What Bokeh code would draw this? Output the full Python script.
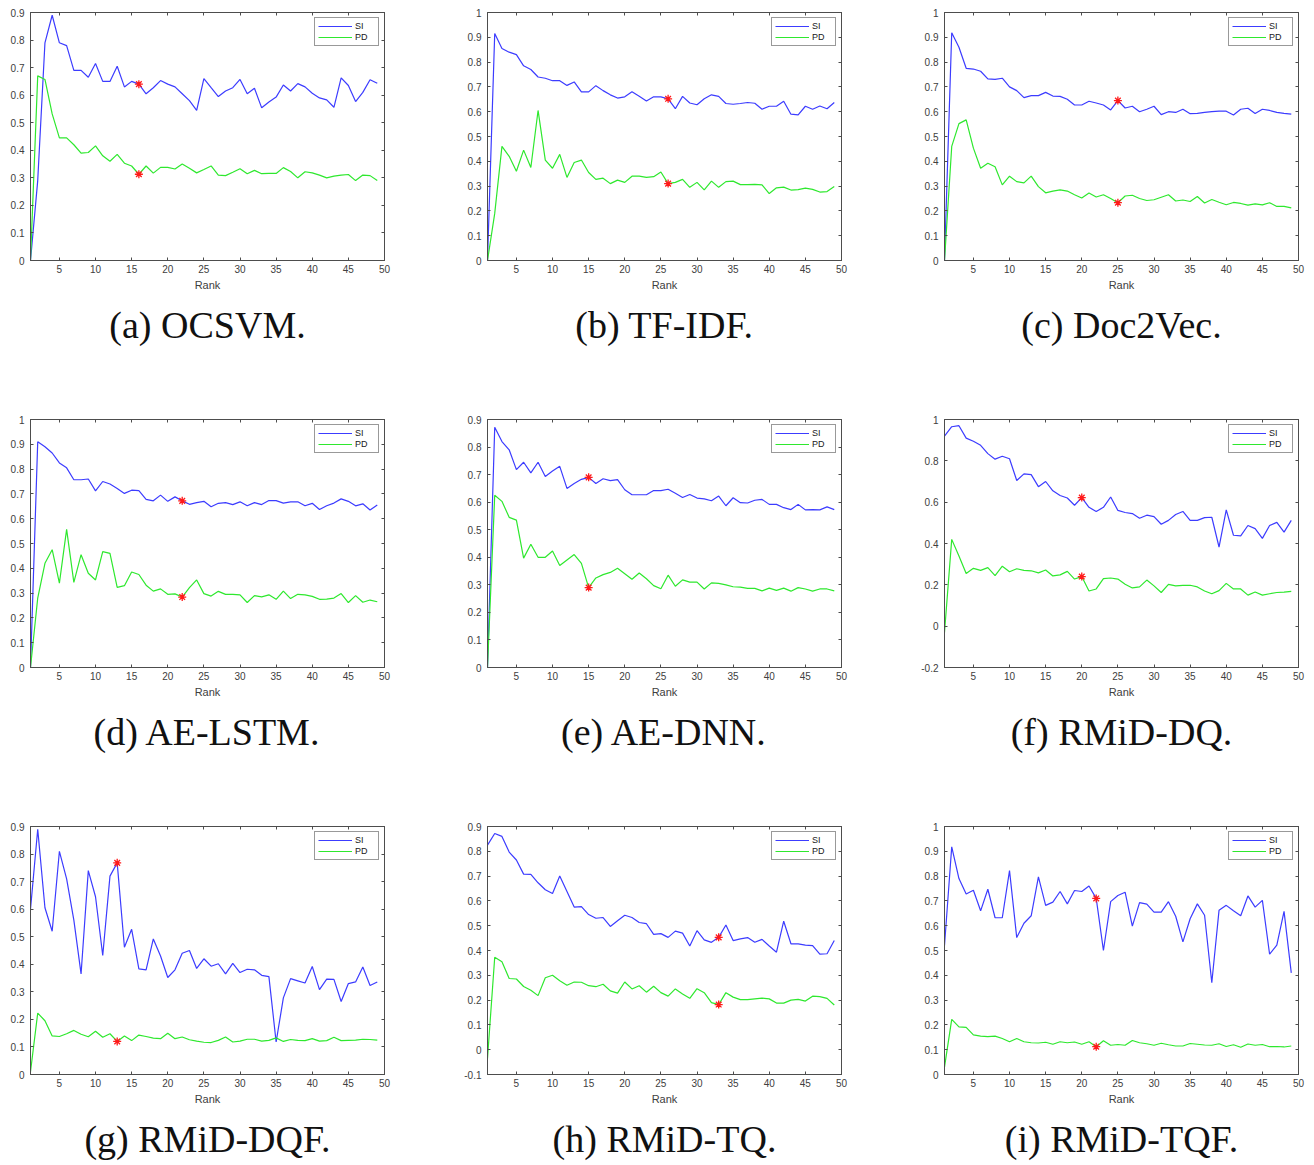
from bokeh.plotting import figure
from bokeh.models import FixedTicker, CustomJSTickFormatter, LinearAxis, Range1d
from bokeh.layouts import row, column
from bokeh.embed import file_html
from bokeh.resources import INLINE

RANK = list(range(1, 50))
X_TICKS = [5, 10, 15, 20, 25, 30, 35, 40, 45, 50]
CAPTIONS = ["(a) OCSVM.", "(b) TF-IDF.", "(c) Doc2Vec.",
            "(d) AE-LSTM.", "(e) AE-DNN.", "(f) RMiD-DQ.",
            "(g) RMiD-DQF.", "(h) RMiD-TQ.", "(i) RMiD-TQF."]
Y_MIN = [0, 0, 0, 0, 0, -0.2, 0, -0.1, 0]
Y_MAX = [0.9, 1, 1, 1, 0.9, 1, 0.9, 0.9, 1]
Y_STEP = [0.1, 0.1, 0.1, 0.1, 0.1, 0.2, 0.1, 0.1, 0.1]
STAR_RANK = [16, 26, 25, 22, 15, 20, 13, 33, 22]

SI_A = [0.0, 0.29, 0.79, 0.89, 0.79, 0.78, 0.69, 0.69, 0.665, 0.715,
        0.65, 0.65, 0.705, 0.63, 0.65, 0.64, 0.605, 0.627, 0.653, 0.64,
        0.63, 0.605, 0.58, 0.545, 0.66, 0.627, 0.595, 0.615, 0.627, 0.657,
        0.605, 0.625, 0.554, 0.575, 0.593, 0.637, 0.615, 0.642, 0.63, 0.607,
        0.59, 0.583, 0.556, 0.663, 0.635, 0.577, 0.61, 0.656, 0.643]
PD_A = [0.0, 0.67, 0.657, 0.532, 0.445, 0.445, 0.42, 0.39, 0.392, 0.416,
        0.38, 0.36, 0.385, 0.353, 0.343, 0.313, 0.343, 0.317, 0.338, 0.338,
        0.332, 0.35, 0.335, 0.318, 0.33, 0.343, 0.31, 0.308, 0.32, 0.333,
        0.315, 0.327, 0.315, 0.316, 0.316, 0.337, 0.323, 0.3, 0.322, 0.318,
        0.31, 0.3, 0.306, 0.31, 0.312, 0.29, 0.31, 0.308, 0.29]

SI_B = [0.0, 0.915, 0.855, 0.84, 0.83, 0.785, 0.77, 0.74, 0.735, 0.725,
        0.725, 0.706, 0.72, 0.68, 0.68, 0.705, 0.685, 0.668, 0.655, 0.66,
        0.68, 0.662, 0.643, 0.66, 0.66, 0.652, 0.612, 0.662, 0.635, 0.628,
        0.652, 0.668, 0.662, 0.633, 0.63, 0.633, 0.637, 0.634, 0.61, 0.622,
        0.622, 0.642, 0.59, 0.587, 0.622, 0.61, 0.623, 0.612, 0.637]
PD_B = [0.0, 0.19, 0.46, 0.42, 0.36, 0.445, 0.375, 0.605, 0.405, 0.372,
        0.428, 0.335, 0.395, 0.405, 0.355, 0.327, 0.332, 0.31, 0.324, 0.315,
        0.34, 0.34, 0.335, 0.338, 0.357, 0.31, 0.315, 0.327, 0.295, 0.315,
        0.285, 0.32, 0.295, 0.318, 0.32, 0.306, 0.306, 0.307, 0.305, 0.27,
        0.293, 0.296, 0.284, 0.286, 0.292, 0.287, 0.276, 0.278, 0.298]

SI_C = [0.0, 0.918, 0.86, 0.775, 0.772, 0.763, 0.732, 0.73, 0.735, 0.7,
        0.685, 0.657, 0.665, 0.665, 0.678, 0.663, 0.662, 0.65, 0.627, 0.627,
        0.642, 0.635, 0.627, 0.607, 0.645, 0.615, 0.622, 0.6, 0.61, 0.622,
        0.588, 0.6, 0.597, 0.61, 0.592, 0.593, 0.597, 0.6, 0.602, 0.602,
        0.587, 0.61, 0.614, 0.593, 0.61, 0.605, 0.597, 0.593, 0.59]
PD_C = [0.0, 0.46, 0.552, 0.567, 0.453, 0.372, 0.392, 0.378, 0.305, 0.34,
        0.318, 0.313, 0.34, 0.298, 0.273, 0.28, 0.285, 0.28, 0.265, 0.252,
        0.272, 0.256, 0.265, 0.25, 0.233, 0.26, 0.263, 0.25, 0.242, 0.245,
        0.255, 0.265, 0.24, 0.244, 0.238, 0.258, 0.232, 0.246, 0.235, 0.225,
        0.234, 0.23, 0.223, 0.228, 0.224, 0.233, 0.218, 0.218, 0.212]

SI_D = [0.0, 0.91, 0.89, 0.865, 0.825, 0.805, 0.757, 0.757, 0.76, 0.712,
        0.75, 0.74, 0.722, 0.702, 0.715, 0.713, 0.678, 0.672, 0.695, 0.67,
        0.688, 0.672, 0.658, 0.665, 0.67, 0.648, 0.662, 0.665, 0.657, 0.668,
        0.652, 0.665, 0.657, 0.673, 0.673, 0.663, 0.668, 0.668, 0.652, 0.662,
        0.637, 0.652, 0.663, 0.68, 0.67, 0.652, 0.66, 0.635, 0.655]
PD_D = [0.0, 0.28, 0.42, 0.475, 0.34, 0.557, 0.343, 0.455, 0.38, 0.353,
        0.467, 0.46, 0.323, 0.33, 0.385, 0.375, 0.332, 0.308, 0.317, 0.295,
        0.297, 0.284, 0.322, 0.353, 0.298, 0.288, 0.307, 0.295, 0.295, 0.293,
        0.262, 0.29, 0.285, 0.293, 0.275, 0.308, 0.278, 0.295, 0.293, 0.287,
        0.275, 0.276, 0.28, 0.298, 0.262, 0.29, 0.263, 0.272, 0.265]

SI_E = [0.0, 0.872, 0.82, 0.79, 0.718, 0.745, 0.706, 0.745, 0.693, 0.713,
        0.73, 0.65, 0.668, 0.683, 0.69, 0.668, 0.685, 0.678, 0.682, 0.645,
        0.627, 0.627, 0.627, 0.642, 0.642, 0.647, 0.632, 0.617, 0.628, 0.615,
        0.612, 0.605, 0.622, 0.587, 0.616, 0.598, 0.597, 0.607, 0.61, 0.592,
        0.592, 0.58, 0.573, 0.592, 0.572, 0.573, 0.572, 0.583, 0.573]
PD_E = [0.0, 0.625, 0.603, 0.545, 0.535, 0.397, 0.447, 0.4, 0.4, 0.423,
        0.37, 0.39, 0.41, 0.378, 0.29, 0.325, 0.337, 0.345, 0.36, 0.34,
        0.32, 0.343, 0.322, 0.297, 0.286, 0.335, 0.295, 0.318, 0.31, 0.31,
        0.285, 0.307, 0.305, 0.3, 0.293, 0.292, 0.287, 0.287, 0.278, 0.288,
        0.28, 0.288, 0.277, 0.29, 0.285, 0.277, 0.285, 0.285, 0.278]

SI_F = [0.92, 0.965, 0.97, 0.91, 0.895, 0.875, 0.835, 0.808, 0.822, 0.81,
        0.705, 0.737, 0.733, 0.675, 0.7, 0.655, 0.632, 0.62, 0.585, 0.622,
        0.575, 0.555, 0.575, 0.625, 0.56, 0.55, 0.545, 0.522, 0.537, 0.53,
        0.493, 0.512, 0.54, 0.555, 0.512, 0.512, 0.525, 0.527, 0.383, 0.563,
        0.44, 0.437, 0.487, 0.472, 0.425, 0.487, 0.502, 0.455, 0.512]
PD_F = [-0.03, 0.42, 0.34, 0.255, 0.28, 0.27, 0.283, 0.245, 0.29, 0.263,
        0.278, 0.27, 0.268, 0.258, 0.272, 0.243, 0.248, 0.265, 0.228, 0.24,
        0.17, 0.18, 0.23, 0.233, 0.228, 0.203, 0.185, 0.19, 0.223, 0.195,
        0.163, 0.202, 0.195, 0.197, 0.198, 0.19, 0.17, 0.157, 0.172, 0.207,
        0.18, 0.18, 0.15, 0.165, 0.15, 0.157, 0.163, 0.165, 0.168]

SI_G = [0.6, 0.89, 0.605, 0.52, 0.81, 0.71, 0.56, 0.365, 0.74, 0.645,
        0.432, 0.72, 0.768, 0.462, 0.527, 0.383, 0.38, 0.492, 0.43, 0.352,
        0.38, 0.44, 0.45, 0.385, 0.42, 0.393, 0.402, 0.365, 0.403, 0.37,
        0.382, 0.38, 0.36, 0.355, 0.118, 0.278, 0.348, 0.34, 0.332, 0.392,
        0.308, 0.346, 0.345, 0.265, 0.33, 0.336, 0.39, 0.323, 0.336]
PD_G = [0.01, 0.223, 0.195, 0.14, 0.138, 0.148, 0.16, 0.146, 0.137, 0.157,
        0.135, 0.148, 0.12, 0.14, 0.123, 0.143, 0.138, 0.132, 0.13, 0.15,
        0.13, 0.136, 0.126, 0.121, 0.117, 0.116, 0.124, 0.136, 0.118, 0.121,
        0.128, 0.128, 0.121, 0.124, 0.133, 0.12, 0.127, 0.124, 0.123, 0.13,
        0.121, 0.123, 0.135, 0.123, 0.124, 0.125, 0.128, 0.127, 0.125]

SI_H = [0.825, 0.872, 0.86, 0.797, 0.765, 0.708, 0.707, 0.673, 0.645, 0.63,
        0.7, 0.638, 0.575, 0.577, 0.545, 0.53, 0.533, 0.497, 0.52, 0.542,
        0.533, 0.513, 0.508, 0.465, 0.468, 0.453, 0.478, 0.47, 0.418, 0.48,
        0.443, 0.433, 0.453, 0.503, 0.44, 0.447, 0.452, 0.433, 0.445, 0.418,
        0.393, 0.518, 0.427, 0.427, 0.422, 0.42, 0.385, 0.387, 0.44]
PD_H = [-0.035, 0.373, 0.355, 0.287, 0.285, 0.255, 0.24, 0.218, 0.29, 0.3,
        0.278, 0.26, 0.273, 0.272, 0.258, 0.254, 0.264, 0.237, 0.228, 0.273,
        0.245, 0.258, 0.232, 0.256, 0.23, 0.216, 0.245, 0.225, 0.207, 0.246,
        0.23, 0.19, 0.182, 0.23, 0.212, 0.202, 0.202, 0.205, 0.208, 0.205,
        0.188, 0.188, 0.2, 0.203, 0.196, 0.216, 0.214, 0.207, 0.18]

SI_I = [0.52, 0.918, 0.79, 0.728, 0.743, 0.66, 0.747, 0.632, 0.632, 0.822,
        0.552, 0.61, 0.64, 0.797, 0.682, 0.695, 0.738, 0.688, 0.742, 0.738,
        0.76, 0.71, 0.5, 0.697, 0.722, 0.735, 0.598, 0.693, 0.687, 0.655,
        0.655, 0.697, 0.638, 0.535, 0.628, 0.688, 0.642, 0.37, 0.662, 0.682,
        0.66, 0.64, 0.72, 0.675, 0.702, 0.485, 0.522, 0.658, 0.41]
PD_I = [0.03, 0.222, 0.192, 0.19, 0.16, 0.155, 0.153, 0.155, 0.145, 0.132,
        0.145, 0.132, 0.128, 0.127, 0.13, 0.122, 0.132, 0.128, 0.131, 0.122,
        0.132, 0.112, 0.136, 0.118, 0.121, 0.118, 0.137, 0.128, 0.124, 0.118,
        0.126, 0.12, 0.115, 0.115, 0.125, 0.122, 0.119, 0.118, 0.124, 0.113,
        0.12, 0.11, 0.123, 0.118, 0.121, 0.112, 0.113, 0.111, 0.115]

SI_ALL = [SI_A, SI_B, SI_C, SI_D, SI_E, SI_F, SI_G, SI_H, SI_I]
PD_ALL = [PD_A, PD_B, PD_C, PD_D, PD_E, PD_F, PD_G, PD_H, PD_I]

AX = "#4d4d4d"
TXT = "#404040"
SANS = "Liberation Sans"
FW, FH = 354, 248


def style_axis(ax, labels=True):
    ax.axis_line_color = AX
    ax.major_tick_line_color = AX
    ax.major_tick_in = 3
    ax.major_tick_out = 0
    ax.minor_tick_line_color = None
    ax.major_label_text_font = SANS
    ax.major_label_text_color = TXT
    if labels:
        ax.major_label_text_font_size = "10px"
    else:
        ax.major_label_text_font_size = "1px"
        ax.major_label_standoff = 0
        ax.formatter = CustomJSTickFormatter(code="return '';")


def make_panel(i, right_border, bottom_border):
    yt = [round(Y_MIN[i] + k * Y_STEP[i], 2)
          for k in range(int(round((Y_MAX[i] - Y_MIN[i]) / Y_STEP[i])) + 1)]
    p = figure(frame_width=FW, frame_height=FH,
               x_range=Range1d(1, 50), y_range=Range1d(Y_MIN[i], Y_MAX[i]),
               output_backend="svg", toolbar_location=None,
               title=CAPTIONS[i], title_location="below",
               min_border_left=30, min_border_right=right_border,
               min_border_top=12, min_border_bottom=bottom_border,
               outline_line_color=AX, background_fill_color="white",
               border_fill_color="white")
    p.title.align = "center"
    p.title.text_font = "Liberation Serif"
    p.title.text_font_size = "38px"
    p.title.text_font_style = "normal"
    p.title.text_color = "#111111"
    p.title.standoff = 17

    p.grid.visible = False
    p.xaxis.ticker = FixedTicker(ticks=X_TICKS)
    p.yaxis.ticker = FixedTicker(ticks=yt)
    p.yaxis.formatter = CustomJSTickFormatter(
        code="return Number(tick.toFixed(2)).toString();")
    for ax in (p.xaxis[0], p.yaxis[0]):
        style_axis(ax)
    p.xaxis.major_label_standoff = 4
    p.yaxis.major_label_standoff = 6
    p.xaxis.axis_label = "Rank"
    p.xaxis.axis_label_text_font = SANS
    p.xaxis.axis_label_text_font_size = "11px"
    p.xaxis.axis_label_text_font_style = "normal"
    p.xaxis.axis_label_text_color = TXT
    p.xaxis.axis_label_standoff = 3

    top = LinearAxis(ticker=FixedTicker(ticks=X_TICKS))
    style_axis(top, labels=False)
    p.add_layout(top, "above")
    right = LinearAxis(ticker=FixedTicker(ticks=yt))
    style_axis(right, labels=False)
    p.add_layout(right, "right")

    si = SI_ALL[i]
    pd_ = PD_ALL[i]
    p.line(RANK, si, line_color="#3c3cff", line_width=1.2, legend_label="SI")
    p.line(RANK, pd_, line_color="#2ee82e", line_width=1.2, legend_label="PD")
    k = STAR_RANK[i]
    p.scatter([k, k], [si[k - 1], pd_[k - 1]], marker="asterisk", size=8,
              line_color="#ff1a1a", line_width=1.3)

    lg = p.legend[0]
    lg.location = "top_right"
    lg.margin = 5
    lg.padding = 3
    lg.spacing = 1
    lg.glyph_width = 34
    lg.glyph_height = 10
    lg.label_height = 10
    lg.label_standoff = 3
    lg.label_text_font = SANS
    lg.label_text_font_size = "9px"
    lg.label_text_color = "#202020"
    lg.border_line_color = "#333333"
    lg.border_line_width = 0.8
    lg.background_fill_color = "white"
    lg.background_fill_alpha = 1
    return p


rows = []
for r in range(3):
    figs = []
    for c in range(3):
        i = r * 3 + c
        right_border = 73 if c < 2 else 16
        bottom_border = 147 if r < 2 else 91
        figs.append(make_panel(i, right_border, bottom_border))
    rows.append(row(*figs))

layout = column(*rows)
open("out.html", "w").write(file_html(layout, INLINE))
